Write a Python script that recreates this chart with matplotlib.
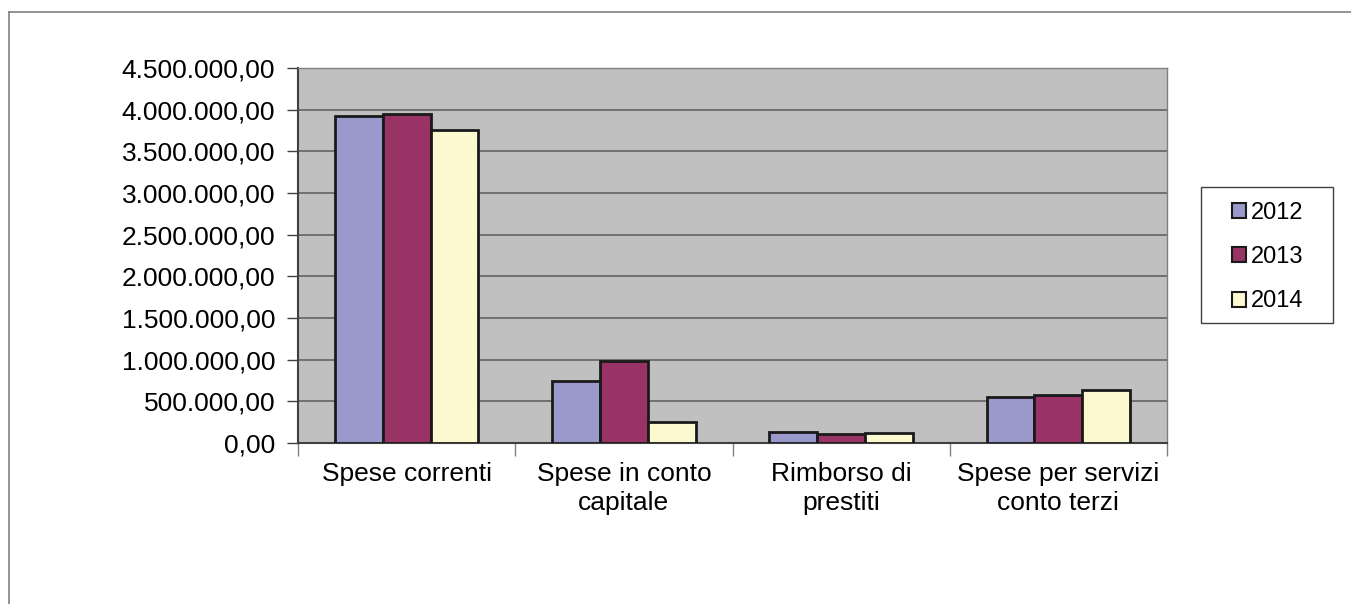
#!/usr/bin/env python3
# -*- coding: utf-8 -*-

import numpy as np
import matplotlib
matplotlib.use('Agg')
import matplotlib.pyplot as plt
from matplotlib.ticker import FuncFormatter, MultipleLocator
from matplotlib.lines import Line2D
from matplotlib.patches import Rectangle

categories = ['Spese correnti', 'Spese in conto\ncapitale', 'Rimborso di\nprestiti',
              'Spese per servizi\nconto terzi']
years = ['2012', '2013', '2014']
v2012 = [3924000, 748000, 136000, 556000]
v2013 = [3950000, 990000, 110000, 576000]
v2014 = [3756000, 256000, 120000, 640000]
colors = ['#9999cc', '#993366', '#fcf9d0']


def it_fmt(v, pos):
    s = '{:,.2f}'.format(v)
    return s.replace(',', 'X').replace('.', ',').replace('X', '.')


def main():
    plt.rcParams['font.family'] = ['Liberation Sans', 'DejaVu Sans']
    fig = plt.figure(figsize=(13.51, 6.04), dpi=100)
    ax = fig.add_axes([298 / 1351, 1 - 443 / 604, 869 / 1351, 375 / 604])
    ax.set_facecolor('#c0c0c0')

    x = np.arange(len(categories))
    w = 0.22
    for i, (vals, lab) in enumerate(zip([v2012, v2013, v2014], years)):
        ax.bar(x + (i - 1) * w, vals, w, color=colors[i], edgecolor='#1a1a1a',
               linewidth=2, label=lab, zorder=3)

    ax.set_xlim(-0.5, len(categories) - 0.5)
    ax.set_ylim(0, 4500000)
    ax.yaxis.set_major_locator(MultipleLocator(500000))
    ax.yaxis.set_major_formatter(FuncFormatter(it_fmt))
    ax.grid(axis='y', color='#6a6a6a', linewidth=1.3, zorder=1)
    ax.set_axisbelow(True)

    ax.set_xticks(x)
    ax.set_xticklabels(categories, fontsize=19, linespacing=1.25)
    ax.set_xticks(np.arange(-0.5, len(categories)), minor=True)
    ax.tick_params(axis='x', which='major', length=0, pad=14)
    ax.tick_params(axis='x', which='minor', length=9, width=1, color='#808080')
    ax.tick_params(axis='y', labelsize=19, length=8, width=1, color='#404040', pad=8.5)

    for side in ['top', 'right']:
        ax.spines[side].set_color('#808080')
        ax.spines[side].set_linewidth(1)
    ax.spines['left'].set_color('#404040')
    ax.spines['left'].set_linewidth(1.5)
    ax.spines['bottom'].set_color('#404040')
    ax.spines['bottom'].set_linewidth(1.5)

    # legend: entries without frame, frame drawn separately to match padding
    leg = ax.legend(loc='center left', bbox_to_anchor=(1232 / 1351, 1 - 257 / 604),
                    bbox_transform=fig.transFigure, fontsize=17, frameon=False,
                    handlelength=0.6, handleheight=0.6, handletextpad=0.2,
                    labelspacing=0.95, borderpad=0, borderaxespad=0)
    for h in leg.legend_handles:
        h.set_linewidth(1.5)
    fig.add_artist(Rectangle((1201 / 1351, 1 - 323 / 604), 132 / 1351, 136 / 604,
                             transform=fig.transFigure, facecolor='white',
                             edgecolor='#404040', linewidth=1, zorder=0))

    # outer chart frame
    fig.add_artist(Line2D([9 / 1351, 9 / 1351], [0, 1 - 12 / 604],
                          transform=fig.transFigure, color='#808080', linewidth=1.2))
    fig.add_artist(Line2D([9 / 1351, 1], [1 - 12 / 604, 1 - 12 / 604],
                          transform=fig.transFigure, color='#808080', linewidth=1.2))

    fig.savefig('out.png', dpi=100, facecolor='white')


if __name__ == '__main__':
    main()
